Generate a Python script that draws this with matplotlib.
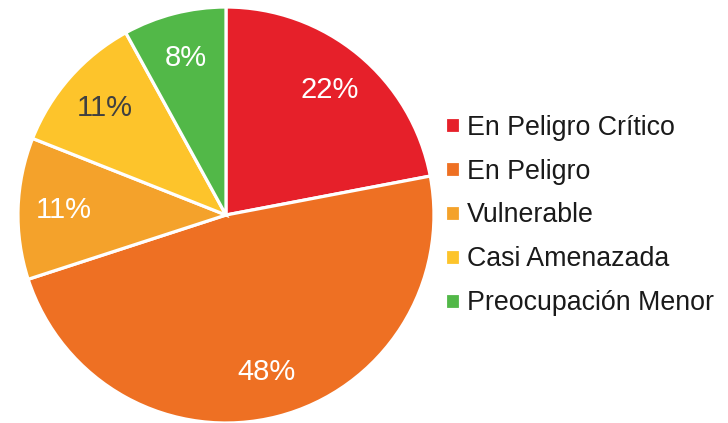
import numpy as np
import matplotlib.pyplot as plt

plt.rcParams['font.family'] = ['Liberation Sans', 'DejaVu Sans']

categories = ["En Peligro Crítico", "En Peligro", "Vulnerable",
              "Casi Amenazada", "Preocupación Menor"]
values = [22, 48, 11, 11, 8]
colors = ["#E6202A", "#EE7023", "#F4A22B", "#FDC42B", "#52B848"]
label_colors = ["white", "white", "white", "#404040", "white"]

fig = plt.figure(figsize=(7.28, 4.23), dpi=100)
ax = fig.add_axes([0.3104 - 0.2857, 0.4917 - 0.4917, 0.5714, 0.9834])

wedges, texts = ax.pie(values, colors=colors, startangle=90, counterclock=False,
                       radius=1.0, wedgeprops=dict(edgecolor="white", linewidth=2.3))
ax.set_aspect("auto")
ax.set_xlim(-1, 1)
ax.set_ylim(-1, 1)

# percentage labels placed along each wedge's bisector
cum = 0
for v, c in zip(values, label_colors):
    mid = np.deg2rad(90 - (cum + v / 2) / sum(values) * 360)
    cum += v
    ax.text(0.78 * np.cos(mid), 0.78 * np.sin(mid), "%d%%" % v,
            ha="center", va="center", fontsize=21, color=c)

leg = fig.legend(wedges, categories, loc="center left",
                 bbox_to_anchor=(0.611, 0.4906), frameon=False, fontsize=19.3,
                 handlelength=0.55, handleheight=0.55, handletextpad=0.26,
                 labelspacing=0.67, borderpad=0, borderaxespad=0)
for t in leg.get_texts():
    t.set_color("#1a1a1a")

fig.savefig("out.png", dpi=100)
